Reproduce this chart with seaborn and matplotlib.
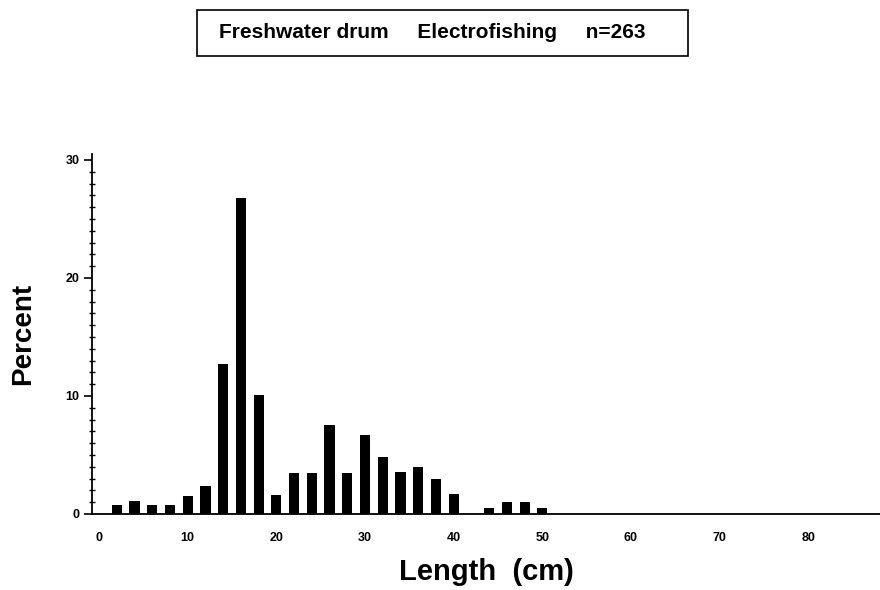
import matplotlib
matplotlib.use("Agg")
import matplotlib.pyplot as plt
from matplotlib.patches import Rectangle
from matplotlib.ticker import MultipleLocator
import pandas as pd
import seaborn as sns

# length classes (cm) and percent of catch
lengths = [2, 4, 6, 8, 10, 12, 14, 16, 18, 20, 22, 24, 26, 28, 30,
           32, 34, 36, 38, 40, 42, 44, 46, 48, 50]
percent = [0.8, 1.1, 0.8, 0.8, 1.5, 2.4, 12.7, 26.8, 10.1, 1.6, 3.5, 3.5, 7.5, 3.5, 6.7,
           4.8, 3.6, 4.0, 3.0, 1.7, 0.0, 0.5, 1.0, 1.0, 0.5]
x_ticks = [0, 10, 20, 30, 40, 50, 60, 70, 80]
y_ticks = [0, 10, 20, 30]
title = "Freshwater drum     Electrofishing     n=263"

sns.set_style("ticks", {"axes.edgecolor": "black", "text.color": "black",
                        "axes.labelcolor": "black", "xtick.color": "black",
                        "ytick.color": "black"})
plt.rcParams['font.family'] = ['Liberation Sans', 'DejaVu Sans']
plt.rcParams['font.weight'] = 'bold'

df = pd.DataFrame({"Length": lengths, "Percent": percent})

fig = plt.figure(figsize=(8.8, 5.9), dpi=100)
ax = fig.add_axes([92 / 880, 1 - 514 / 590, 788 / 880, 360 / 590])

sns.barplot(data=df, x="Length", y="Percent", native_scale=True, width=0.57,
            color="black", edgecolor="black", linewidth=0, ax=ax)

ax.set_xlim(-0.8, 88.1)
ax.set_ylim(0, 30.5)
ax.set_xticks(x_ticks)
ax.set_yticks(y_ticks)
ax.yaxis.set_minor_locator(MultipleLocator(1))

ax.tick_params(axis="x", length=0, pad=13, labelsize=9)
ax.tick_params(axis="y", which="major", direction="out", length=6, width=1.2,
               pad=3, labelsize=9)
ax.tick_params(axis="y", which="minor", direction="inout", length=4, width=1)
for lab in ax.get_xticklabels() + ax.get_yticklabels():
    lab.set_fontweight("bold")

sns.despine(ax=ax)
ax.spines["left"].set_linewidth(1.3)
ax.spines["bottom"].set_linewidth(1.3)

ax.set_xlabel("Length  (cm)", fontsize=21, fontweight="bold")
ax.set_ylabel("Percent", fontsize=20, fontweight="bold")
ax.xaxis.label.set_verticalalignment("center")
ax.yaxis.label.set_verticalalignment("center")
ax.yaxis.label.set_horizontalalignment("center")
ax.xaxis.set_label_coords(0.501, -0.161)
ax.yaxis.set_label_coords(-0.087, 0.5)

# boxed header
fig.patches.append(Rectangle((197 / 880, 1 - 56 / 590), 491 / 880, 46 / 590,
                             transform=fig.transFigure, fill=False,
                             edgecolor="black", linewidth=1.2))
fig.text(432 / 880, 1 - 33 / 590, title, ha="center", va="center",
         fontsize=15, fontweight="bold")

fig.savefig("out.png", dpi=100)
